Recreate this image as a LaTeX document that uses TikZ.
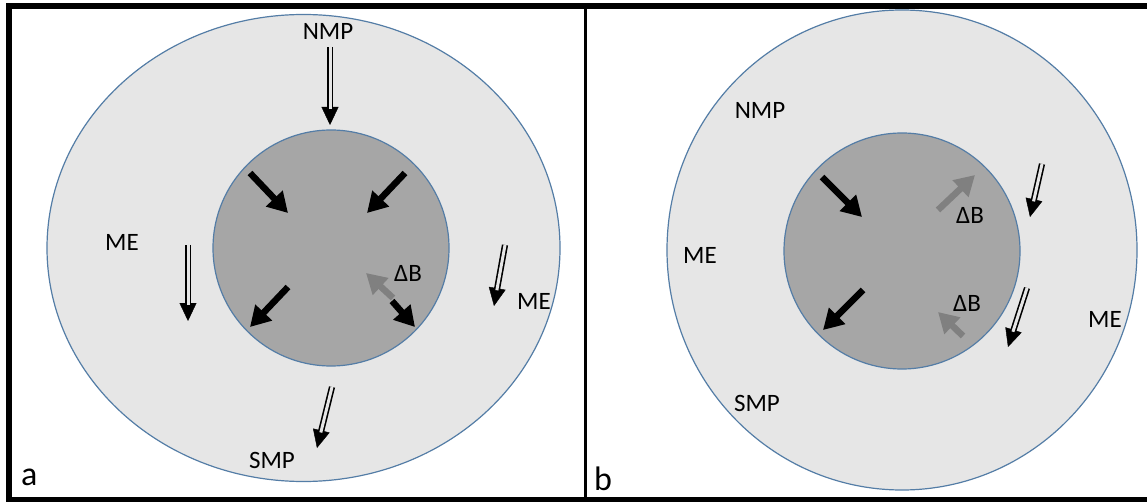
\documentclass[tikz,border=0pt]{standalone}
\usepackage{fontspec}
\setmainfont{Carlito}
\usetikzlibrary{arrows.meta}
\definecolor{ringfill}{RGB}{230,230,230}
\definecolor{corefill}{RGB}{166,166,166}
\definecolor{rimline}{RGB}{84,125,166}
\definecolor{shiftgray}{RGB}{128,128,128}

\begin{document}
\begin{tikzpicture}[x=1pt,y=-1pt,
  lbl/.style={inner sep=0pt, font=\fontsize{25}{30}\selectfont},
  panel/.style={inner sep=0pt, anchor=base west, font=\fontsize{34}{40}\selectfont},
  ring/.style={fill=ringfill, draw=rimline, line width=1.2pt},
  core/.style={fill=corefill, draw=rimline, line width=1.2pt},
  flow/.style={line width=6.5pt, -{Triangle[length=20pt,width=22pt]}},
  dbflow/.style={flow, draw=shiftgray, fill=shiftgray},
  dhead/.style={line width=0.4pt, -{Triangle[length=18pt,width=17pt]}},
  dshaft/.style={line width=1.6pt, double=ringfill, double distance=3pt, shorten >=16pt},
]
\useasboundingbox (0,0) rectangle (1147,502);

% ---------- panel a ----------
\path[ring] (303.5,248) ellipse [x radius=256.5, y radius=233.5];
\path[core] (331,248) circle [radius=118];

% ---------- panel b ----------
\path[ring] (902,250) ellipse [x radius=235, y radius=240];
\path[core] (902,251) circle [radius=118];

% ---------- frame ----------
\draw[line width=6pt] (1150,6.5) -- (9,6.5) -- (9,499.5) -- (1150,499.5);
\draw[line width=3pt] (585.8,6.5) -- (585.8,499.5);

% ---------- arrow end points, panel a ----------
\coordinate (aNt) at (330,47);   \coordinate (aNh) at (330,125);
\coordinate (aWt) at (188,245);  \coordinate (aWh) at (188,321);
\coordinate (aEt) at (505,245);  \coordinate (aEh) at (494,306);
\coordinate (aSt) at (332,387);  \coordinate (aSh) at (317,448);
\coordinate (a1t) at (250,173);  \coordinate (a1h) at (288,213);
\coordinate (a2t) at (405,173);  \coordinate (a2h) at (367,213);
\coordinate (a3t) at (288,287);  \coordinate (a3h) at (250,327);
\coordinate (a4t) at (392,301);  \coordinate (a4h) at (415,327);
\coordinate (a5t) at (393,298);  \coordinate (a5h) at (366,273);

% ---------- arrow end points, panel b ----------
\coordinate (b1t) at (822,177);  \coordinate (b1h) at (862,217);
\coordinate (b2t) at (863,290);  \coordinate (b2h) at (823,330);
\coordinate (b3t) at (938,210);  \coordinate (b3h) at (975,175);
\coordinate (b4t) at (963,336);  \coordinate (b4h) at (938,312);
\coordinate (bNt) at (1042,164); \coordinate (bNh) at (1030,217);
\coordinate (bSt) at (1027,288); \coordinate (bSh) at (1008,347);

% core flows
\draw[flow] (a1t) -- (a1h);
\draw[flow] (a2t) -- (a2h);
\draw[flow] (a3t) -- (a3h);
\draw[flow] (a4t) -- (a4h);
\draw[dbflow] (a5t) -- (a5h);
\draw[flow] (b1t) -- (b1h);
\draw[flow] (b2t) -- (b2h);
\draw[dbflow] (b3t) -- (b3h);
\draw[dbflow] (b4t) -- (b4h);

% mantle flows (hollow shafts)
\foreach \p in {aN,aW,aE,aS,bN,bS}{
  \draw[dhead] (\p t) -- (\p h);
  \draw[dshaft] (\p t) -- (\p h);
}

% ---------- labels ----------
\node[lbl] (aNMP) at (328,31) {NMP};
\node[lbl] (aMEw) at (122,242) {ME};
\node[lbl] (aMEe) at (534,301) {ME};
\node[lbl] (aSMP) at (272,460) {SMP};
\node[lbl] (aDB)  at (408,273) {ΔB};
\node[lbl] (bNMP) at (760,110) {NMP};
\node[lbl] (bMEw) at (700,255) {ME};
\node[lbl] (bMEe) at (1105,319) {ME};
\node[lbl] (bSMP) at (757,403) {SMP};
\node[lbl] (bDB1) at (970,215) {ΔB};
\node[lbl] (bDB2) at (967,303) {ΔB};
\node[panel] (pa) at (21,485) {a};
\node[panel] (pb) at (594,490) {b};
\end{tikzpicture}
\end{document}
